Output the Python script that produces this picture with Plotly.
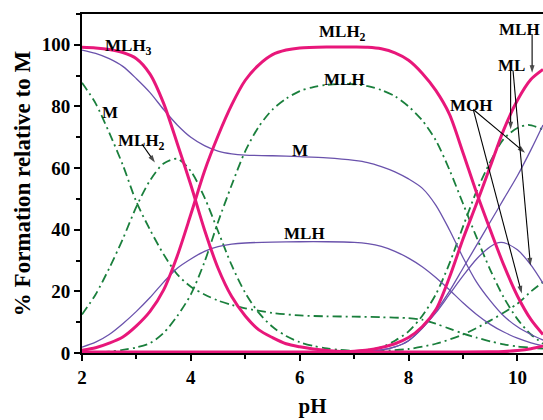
import plotly.graph_objects as go

# ---------------- data ----------------
# pink (thick) curves
ph_p1 = [2.0,2.25,2.5,2.75,3.0,3.25,3.5,3.75,4.0,4.25,4.5,4.75,5.0,5.25,5.5,5.75,6.0,6.25,6.5,6.75,7.0]
p1_mlh3 = [99.2,99.0,98.5,97.5,95.5,90.5,81,68,54.5,40,27.5,18.3,12,7.5,5,3,2,1.3,0.8,0.5,0.4]

ph_p2 = [2.0,2.25,2.5,2.75,3.0,3.25,3.5,3.75,4.0,4.25,4.5,4.75,5.0,5.25,5.5,5.75,6.0,6.5,7.0,7.25,7.5,7.75,8.0,8.25,8.5,8.75,9.0,9.25,9.5,9.75,10.0,10.25,10.47]
p2_mlh2 = [0.9,1.7,3.2,5.2,8.8,13.5,20.5,31.5,45,59,70.5,80.5,88.5,93.5,96.8,98.3,99,99.3,99.3,99.2,98.7,97.4,95,90.8,85.2,77.5,65,52,40,28.5,18.5,10.8,6]

ph_p3 = [6.5,6.75,7.0,7.25,7.5,7.75,8.0,8.25,8.5,8.75,9.0,9.25,9.5,9.75,10.0,10.25,10.47]
p3_mlh = [0.3,0.35,0.6,1.0,1.8,3.0,5.0,8.5,14,24.5,37,48.5,60.5,72.5,82,88.8,92]

ph_p4 = [2.0,9.0,9.5,9.75,10.0,10.25,10.47]
p4_ml = [0.35,0.35,0.4,0.5,0.8,1.4,2.3]

# purple (thin) curves
ph_u1 = [2.0,2.25,2.5,2.75,3.0,3.25,3.5,3.75,4.0,4.25,4.5,4.75,5.0,5.5,6.0,6.5,7.0,7.25,7.5,7.75,8.0,8.25,8.5,8.75,9.0,9.25,9.5,9.75,10.0,10.25,10.47]
u1_m = [98.3,97.2,95.5,93,89,84.5,79,74,70,67.3,65.5,64.6,64.2,64,63.7,63.3,62.5,61.8,60.5,58.8,56.5,53.5,48,40,31,23,17,12,8.5,6,4.2]

ph_u2 = [2.0,2.25,2.5,2.75,3.0,3.25,3.5,3.75,4.0,4.25,4.5,4.75,5.0,5.5,6.0,6.5,7.0,7.25,7.5,7.75,8.0,8.25,8.5,8.75,9.0,9.25,9.5,9.75,10.0,10.25,10.47]
u2_mlh = [1.9,3.5,6,9.5,13.5,18,23,27.5,30.5,33,34.5,35.3,35.7,36,36.1,36.1,35.9,35.5,34.6,33,30.8,28,24.5,20.5,16.3,12.5,9.3,6.8,4.8,3.3,2.3]

ph_u3 = [7.0,7.5,7.75,8.0,8.25,8.5,8.75,9.0,9.25,9.5,9.75,10.0,10.25,10.47]
u3_ml = [0.3,1,2,4,8,13.5,20,27.5,35,42.5,50,57.5,66,74]

ph_u4 = [7.0,7.5,7.75,8.0,8.25,8.5,8.75,9.0,9.25,9.5,9.65,9.75,10.0,10.25,10.47]
u4_moh = [0.3,1,2,4,8,13,19,25,30.5,34.5,35.8,35.8,33.5,28.5,22.6]

# green (dash-dot) curves
ph_g1 = [2.0,2.25,2.5,2.75,3.0,3.25,3.5,3.75,4.0,4.25,4.5,4.75,5.0,5.5,6.0,6.5,7.0,7.5,8.0,8.25,8.5,8.75,9.0,9.25,9.5,9.75,10.0,10.25,10.47]
g1_m = [87.7,81,71.5,61,49,40,32,25.5,21.5,19,17,15.6,14.5,13,12.2,11.9,11.8,11.6,11.3,10.8,9.5,7.9,6.3,5,3.8,2.8,2.1,1.7,1.4]

ph_g2 = [2.0,2.25,2.5,2.75,3.0,3.25,3.5,3.75,4.0,4.25,4.5,4.75,5.0,5.25,5.5,5.75,6.0,6.25,6.5,6.75,7.0,7.5,8.0]
g2_mlh2 = [12.5,19,27.5,37,47.5,56,61.5,63,59,50.5,39.5,28.5,19.5,13,8.5,5.5,3.5,2.3,1.5,1.0,0.7,0.4,0.3]

ph_g3 = [2.0,2.25,2.5,2.75,3.0,3.25,3.5,3.75,4.0,4.25,4.5,4.75,5.0,5.25,5.5,5.75,6.0,6.25,6.5,6.75,7.0,7.25,7.5,7.75,8.0,8.25,8.5,8.75,9.0,9.25,9.5,9.75,10.0,10.25,10.47]
g3_mlh = [0.1,0.2,0.4,1,1.8,3.2,6.5,12,19,29.5,42.5,54.5,65.5,73.5,79,82.5,85,86.3,87,87.3,87.2,86.6,85.3,83.3,80,75.5,69,59.5,48.5,37.5,27,18,11,6,3]

ph_g4 = [7.0,7.25,7.5,7.75,8.0,8.25,8.5,8.75,9.0,9.25,9.5,9.75,10.0,10.2,10.47]
g4_ml = [0.5,1,1.8,4,7,12,19,29,41,52.5,62,69.5,73,74,72.5]

ph_g5 = [6.0,6.5,7.0,7.5,8.0,8.5,9.0,9.5,10.0,10.25,10.47]
g5_moh = [0.2,0.3,0.4,0.7,1.3,3,6,10.5,16,20,23]

# species labels
label_text = ["MLH<sub>3</sub>", "M", "MLH<sub>2</sub>", "MLH<sub>2</sub>", "MLH", "M", "MLH", "MOH", "MLH", "ML"]

PINK = "#E8177A"
PURPLE = "#6A52AC"
GREEN = "#1A7F3C"
FONT = "Liberation Serif"

fig = go.Figure()

def add(xs, ys, color, width, dash="solid"):
    fig.add_trace(go.Scatter(x=xs, y=ys, mode="lines",
                             line=dict(color=color, width=width, dash=dash, shape="spline", smoothing=0.8),
                             showlegend=False, hoverinfo="skip"))

gd = "9px,4px,2px,4px"
for xs, ys in [(ph_g1, g1_m), (ph_g2, g2_mlh2), (ph_g3, g3_mlh), (ph_g4, g4_ml), (ph_g5, g5_moh)]:
    add(xs, ys, GREEN, 1.8, gd)
for xs, ys in [(ph_u1, u1_m), (ph_u2, u2_mlh), (ph_u3, u3_ml), (ph_u4, u4_moh)]:
    add(xs, ys, PURPLE, 1.3)
for xs, ys in [(ph_p1, p1_mlh3), (ph_p2, p2_mlh2), (ph_p3, p3_mlh), (ph_p4, p4_ml)]:
    add(xs, ys, PINK, 3)

# label placement (layout, not data)
label_pos = [(2.85, 99.3), (2.51, 78.1), (3.1, 68.5), (6.78, 103.8), (6.82, 88.8),
             (6.0, 65.7), (6.08, 38.7), (9.16, 80.2), (10.03, 105.0), (9.9, 93.2)]
lab_font = dict(family=FONT, size=17, color="black", weight="bold")
for (x, y), t in zip(label_pos, label_text):
    fig.add_annotation(x=x, y=y, text=t, showarrow=False, font=lab_font,
                       xanchor="center", yanchor="middle")

# pointer arrows: (tail, head)
arrow_pos = [
    ((3.1, 67.8), (3.34, 61.8)),
    ((10.27, 103.4), (10.27, 90.9)),
    ((9.875, 91.5), (9.875, 72.6)),
    ((9.92, 91.5), (10.24, 28.4)),
    ((9.19, 79.0), (10.14, 65.0)),
    ((9.19, 79.0), (10.08, 19.3)),
]
for (tx, ty), (hx, hy) in arrow_pos:
    fig.add_trace(go.Scatter(x=[tx, hx], y=[ty, hy], mode="lines+markers",
                             line=dict(color="black", width=1.1),
                             marker=dict(symbol=["circle", "arrow"], size=[0, 8], angleref="previous",
                                         color="black", line=dict(width=0)),
                             cliponaxis=False, showlegend=False, hoverinfo="skip"))

tick_font = dict(family=FONT, size=19, color="black", weight="bold")
fig.update_layout(
    width=543, height=420,
    margin=dict(l=82, r=0, t=14, b=67, autoexpand=False),
    paper_bgcolor="white", plot_bgcolor="white",
    showlegend=False,
    xaxis=dict(range=[2, 10.47], tick0=2, dtick=2, ticks="outside", ticklen=6, tickwidth=2,
               tickcolor="black", showline=True, linewidth=2, linecolor="black", mirror=True,
               showgrid=False, zeroline=False, tickfont=tick_font, layer="below traces",
               minor=dict(dtick=1, ticks="outside", ticklen=4, tickwidth=2, tickcolor="black", showgrid=False),
               title=dict(text="pH", font=dict(family=FONT, size=21, color="black", weight="bold"), standoff=12)),
    yaxis=dict(range=[0, 110], tick0=0, dtick=20, ticks="outside", ticklen=6, tickwidth=2,
               tickcolor="black", showline=True, linewidth=2, linecolor="black", mirror=False,
               showgrid=False, zeroline=False, tickfont=tick_font,
               minor=dict(dtick=10, ticks="outside", ticklen=4, tickwidth=2, tickcolor="black", showgrid=False),
               title=dict(text="% Formation relative to M", font=dict(family=FONT, size=23, color="black", weight="bold"), standoff=5)),
)

fig.write_html("out.html", config={"displayModeBar": False},
               post_script="document.body.style.margin='0';document.body.style.overflow='hidden';")
